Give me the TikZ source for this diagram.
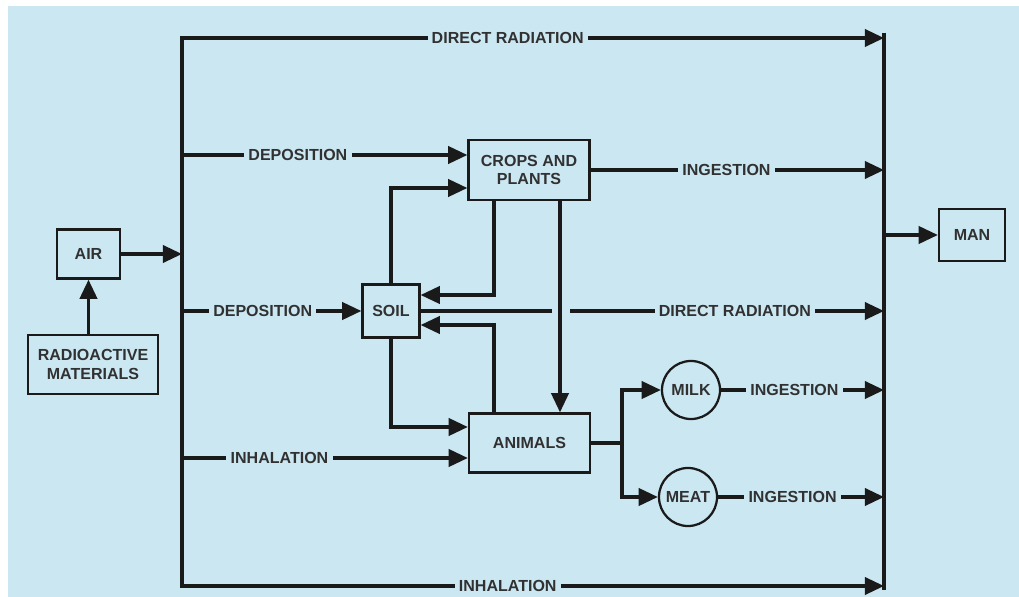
\documentclass[tikz,border=0pt]{standalone}
\usepackage{fontspec}
\setmainfont{Liberation Sans}
\usetikzlibrary{arrows.meta, positioning}
\definecolor{mBlue}{HTML}{CBE7F2}
\definecolor{mInk}{HTML}{1A1A1A}
\tikzset{
  box/.style={draw=mInk, line width=1.6pt, fill=mBlue, text=mInk!90, align=center, inner sep=0pt},
  wire/.style={draw=mInk, line width=2.4pt},
  flow/.style={wire, -{Triangle[length=4.8mm, width=4.3mm]}},
  lbl/.style={fill=mBlue, text=mInk!90, inner xsep=3pt, inner ysep=1pt},
}

\begin{document}
\begin{tikzpicture}[x=0.025cm, y=-0.025cm, every node/.style={font=\fontsize{11.4}{13}\selectfont\bfseries}]
    \fill[white] (0,0) rectangle (1019,597);
    \fill[mBlue] (8,6) rectangle (1019,597);
    \node[box, minimum width=1.575cm, minimum height=1.225cm] (air) at (88.5,254) {AIR};
    \node[box, minimum width=3.25cm, minimum height=1.475cm] (radio) at (93,364.5) {RADIOACTIVE\\MATERIALS};
    \node[box, minimum width=3.025cm, minimum height=1.5cm] (crops) at (529,170) {CROPS AND\\PLANTS};
    \node[box, minimum width=1.425cm, minimum height=1.325cm] (soil) at (391,311) {SOIL};
    \node[box, minimum width=3.025cm, minimum height=1.475cm] (animals) at (529.5,443) {ANIMALS};
    \node[box, circle, minimum size=1.45cm] (milk) at (691,390) {MILK};
    \node[box, circle, minimum size=1.45cm] (meat) at (688,497) {MEAT};
    \node[box, minimum width=1.65cm, minimum height=1.3cm] (man) at (972,235) {MAN};
    % the two buses
    \coordinate (lt) at (182,38); \coordinate (lb) at (182,586);
    \coordinate (rt) at (884,33); \coordinate (rb) at (884,590);
    \coordinate (fork) at (622,443);
    \draw[wire, line cap=rect] (lt) -- (lb);
    \draw[wire] (rt) -- (rb);
    \draw[flow] (radio.north -| air) -- (air.south);
    \draw[flow] (air) -- (air -| lt);
    \draw[flow] (lt) -- node[lbl, pos=0.464] {DIRECT RADIATION} (lt -| rt);
    \draw[flow] (lt |- 0,155) -- node[lbl, pos=0.406] {DEPOSITION} (crops.west |- 0,155);
    \draw[flow] (soil.north) |- (crops.west |- 0,188);
    \draw[flow] (crops.east) -- node[lbl, pos=0.463] {INGESTION} (crops -| rt);
    \draw[flow] (crops.south -| 494,0) |- (soil.east |- 0,295);
    \draw[flow] (crops.south -| 560,0) -- (animals.north -| 560,0);
    \draw[flow] (soil -| lt) -- node[lbl, pos=0.45] {DEPOSITION} (soil.west);
    \draw[wire] (soil.east) -- (soil.east -| 552,0);
    \draw[flow] (soil.east -| 570,0) -- node[lbl, pos=0.525] {DIRECT RADIATION} (soil -| rt);
    \draw[flow] (animals.north -| 494,0) |- (soil.east |- 0,325);
    \draw[flow] (soil.south) |- (animals.west |- 0,427);
    \draw[flow] (lt |- 0,458) -- node[lbl, pos=0.341] {INHALATION} (animals.west |- 0,458);
    % animals to milk and meat
    \draw[wire] (animals.east) -- (fork);
    \draw[flow] (fork) |- (milk);
    \draw[flow] (fork) |- (meat);
    \draw[flow] (milk.east) -- node[lbl, pos=0.45] {INGESTION} (milk -| rt);
    \draw[flow] (meat.east) -- node[lbl, pos=0.449] {INGESTION} (meat -| rt);
    \draw[flow] (lb) -- node[lbl, pos=0.464] {INHALATION} (lb -| rt);
    \draw[flow] (man -| rt) -- (man);
\end{tikzpicture}
\end{document}
